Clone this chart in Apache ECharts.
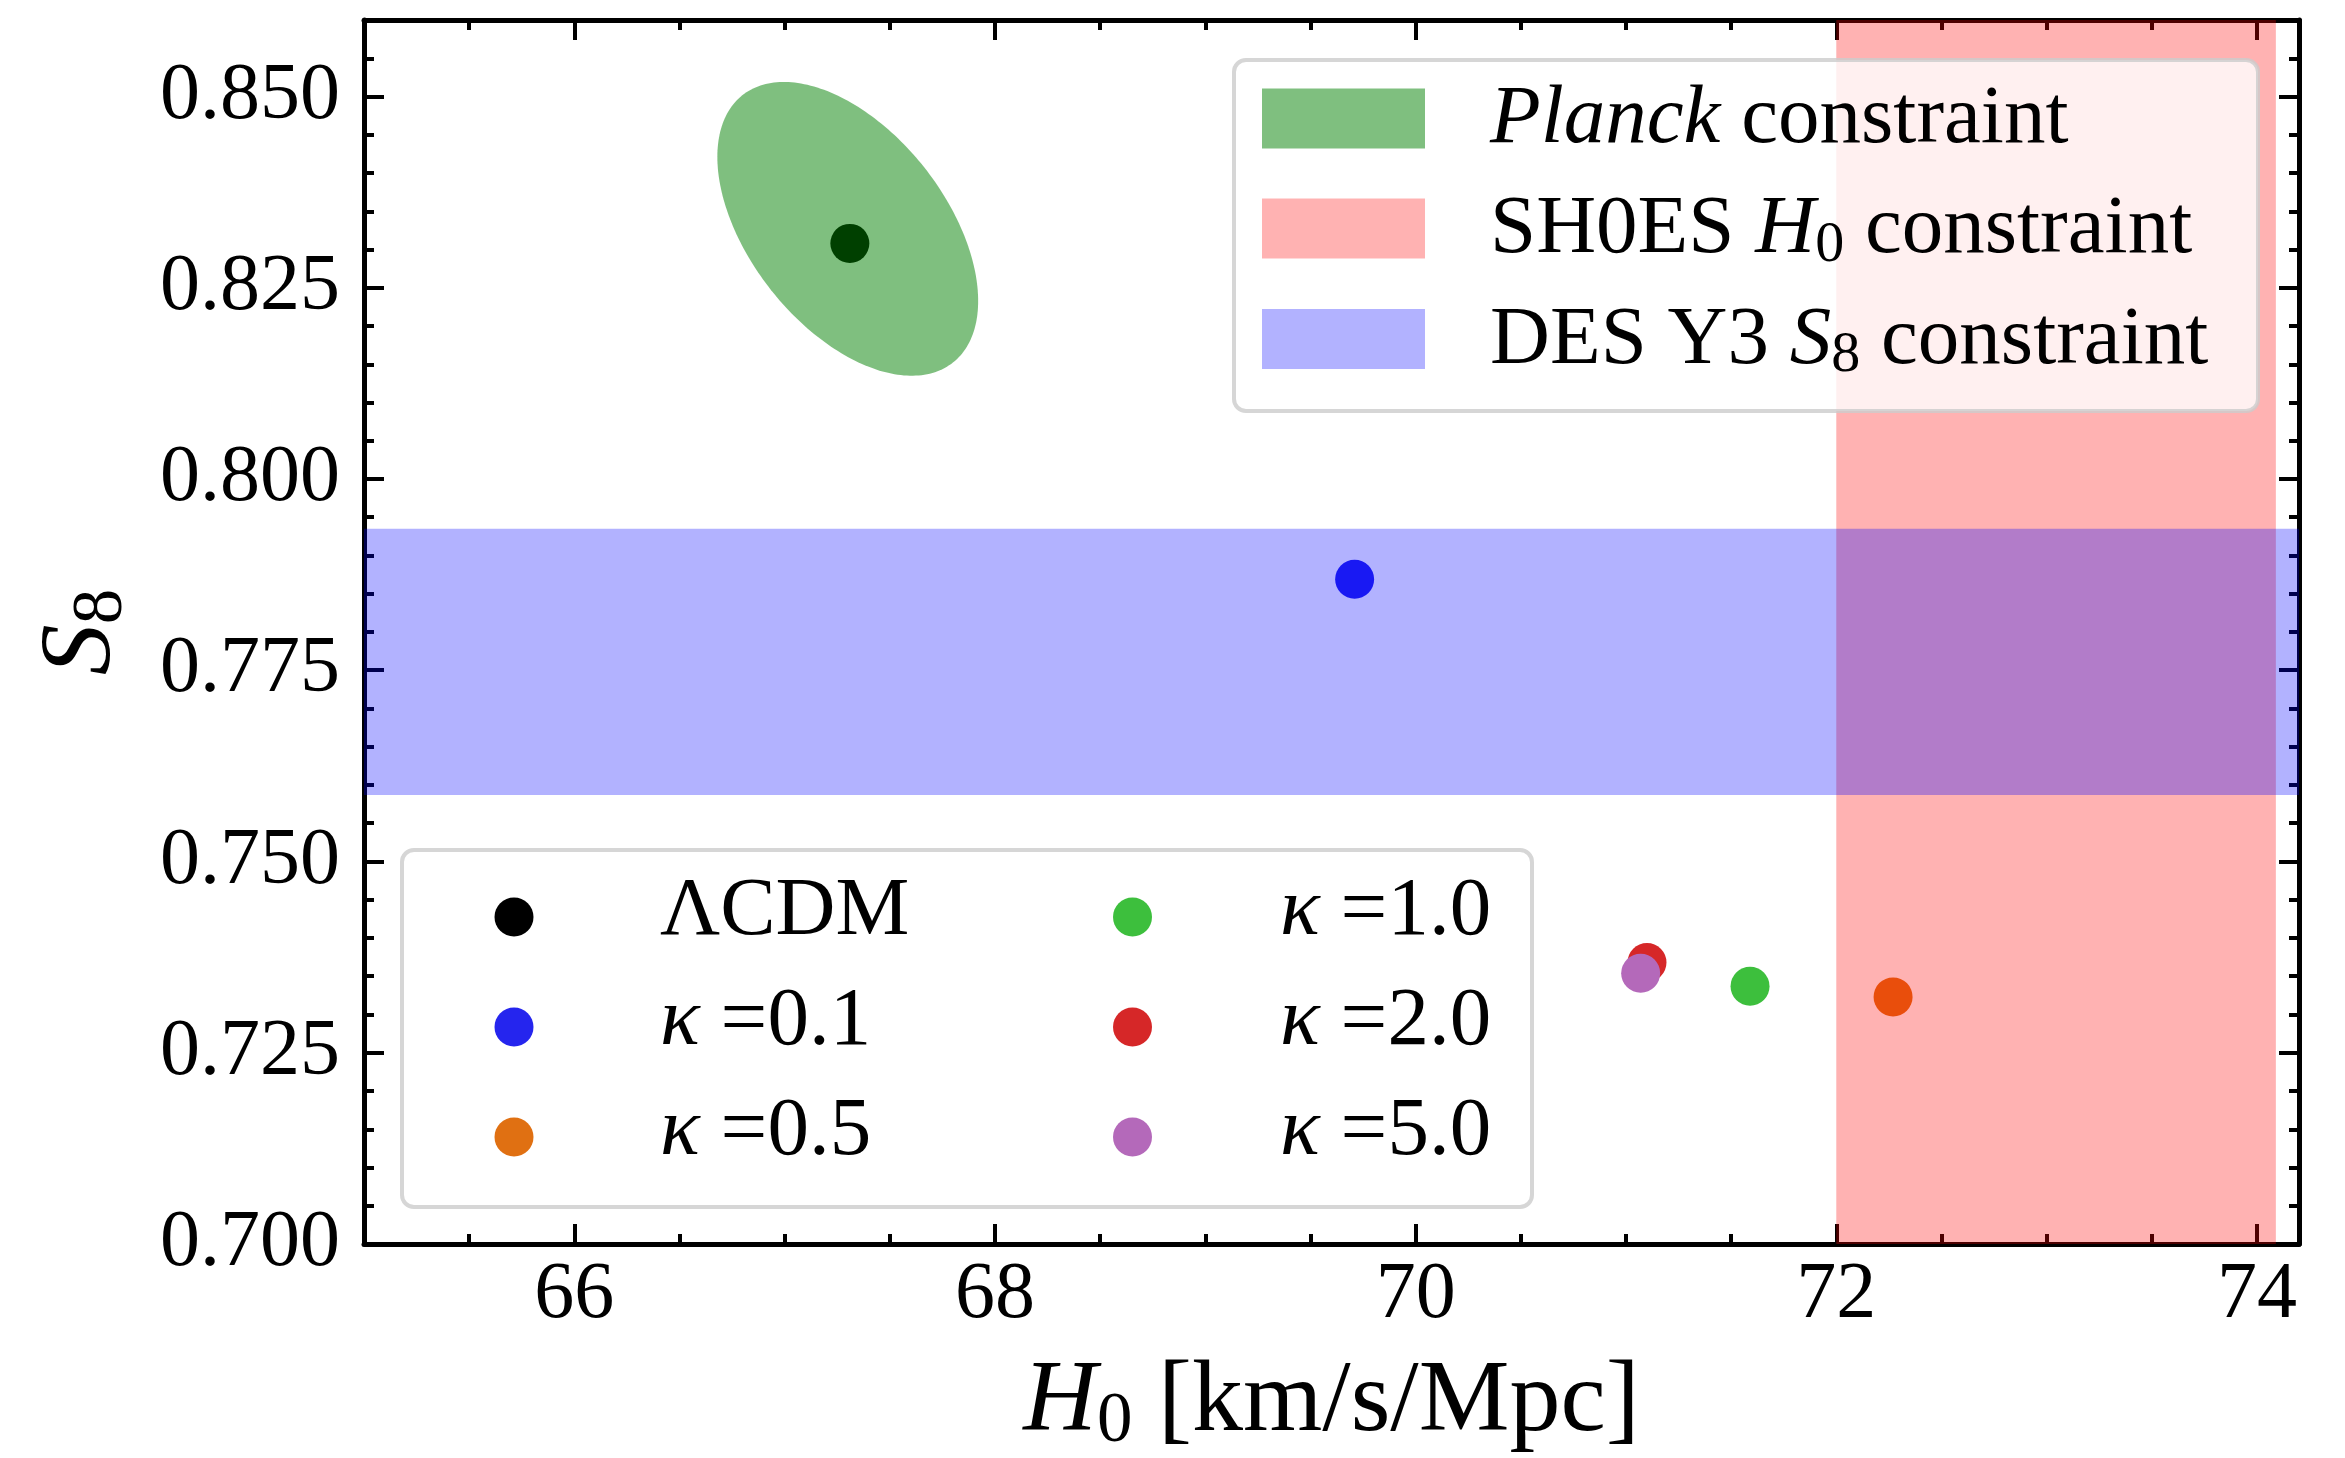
<!DOCTYPE html>
<html>
<head>
<meta charset="utf-8">
<script src="https://cdn.jsdelivr.net/npm/echarts@6/dist/echarts.min.js"></script>
<style>
html,body{margin:0;padding:0;background:#ffffff;}
#chart{width:2345px;height:1458px;}
</style>
</head>
<body>
<div id="chart"></div>
<script>
// ---------------- data ----------------
const xAxisRange = [65, 74.2];
const yAxisRange = [0.700, 0.860];
const xTickStep = 2;
const yTickStep = 0.025;

const modelNames  = ['ΛCDM', 'κ =0.1', 'κ =0.5', 'κ =1.0', 'κ =2.0', 'κ =5.0'];
const modelH0     = [67.31, 69.71, 72.27, 71.59, 71.10, 71.07];
const modelS8     = [0.8308, 0.7869, 0.7323, 0.7337, 0.7368, 0.7354];
const modelColors = ['#000000', '#2525ee', '#e07012', '#3dbf3d', '#d62728', '#b469ba'];

const constraintNames = ['Planck constraint', 'SH0ES H0 constraint', 'DES Y3 S8 constraint'];
const shoesH0Band = [72.00, 74.09];
const desS8Band   = [0.7587, 0.7935];
const planckCenter    = [67.30, 0.8327];
const planckHalfWidth = [0.62, 0.0192];   // H0, S8 half extents
const planckCorr      = -0.49;

// ---------------- styling ----------------
const FONT = "'Liberation Serif', 'DejaVu Serif', serif";
const TICK_FONT = 80;
const TITLE_FONT = 102;
const LEG_FONT = 83;
const C_PLANCK = 'rgba(0,128,0,0.5)';
const C_SHOES  = 'rgba(255,0,0,0.3)';
const C_DES    = 'rgba(0,0,255,0.3)';

const chart = echarts.init(document.getElementById('chart'), null, {renderer: 'canvas'});

function isMultiple(v, step) {
  const r = v / step;
  return Math.abs(r - Math.round(r)) < 1e-6;
}

function axisCommon(isX, showLabels) {
  const range = isX ? xAxisRange : yAxisRange;
  const o = {
    type: 'value',
    min: range[0],
    max: range[1],
    scale: true,
    splitLine: {show: false},
    axisLine: {show: true, onZero: false, lineStyle: {color: '#000', width: 5}},
    axisTick: {show: true, inside: true, length: 20, lineStyle: {color: '#000', width: 4}},
    minorTick: {show: true, splitNumber: isX ? 4 : 5, length: 10, lineStyle: {color: '#000', width: 4}},
    axisLabel: {
      show: showLabels,
      color: '#000',
      fontFamily: FONT,
      fontSize: TICK_FONT,
      lineHeight: TICK_FONT,
      margin: isX ? 12 : 24,
      formatter: isX
        ? (v) => (isMultiple(v, xTickStep) ? String(Math.round(v)) : '')
        : (v) => (isMultiple(v, yTickStep) ? v.toFixed(3) : '')
    }
  };
  if (isX) { o.splitNumber = 5; } else { o.interval = yTickStep; }
  return o;
}

const subRich = (size, lh) => ({
  i: {fontFamily: FONT, fontStyle: 'italic', fontSize: size, lineHeight: lh, color: '#000'},
  s: {fontFamily: FONT, fontSize: Math.round(size * 0.7), lineHeight: Math.round(lh * 0.5), verticalAlign: 'bottom', color: '#000'}
});

const xBottom = Object.assign(axisCommon(true, true), {
  position: 'bottom',
  name: '{i|H}{s|0} [km/s/Mpc]',
  nameLocation: 'middle',
  nameGap: 104,
  nameTextStyle: {fontFamily: FONT, fontSize: TITLE_FONT, lineHeight: 110, color: '#000', rich: subRich(TITLE_FONT, 110)}
});
const xTop = Object.assign(axisCommon(true, false), {position: 'top'});
const yLeft = Object.assign(axisCommon(false, true), {
  position: 'left',
  name: '{i|S}{s|8}',
  nameLocation: 'middle',
  nameGap: 226,
  nameTextStyle: {fontFamily: FONT, fontSize: TITLE_FONT, lineHeight: 110, color: '#000', rich: subRich(TITLE_FONT, 110)}
});
const yRight = Object.assign(axisCommon(false, false), {position: 'right'});

// scatter points (below the shaded constraints)
const scatterSeries = modelNames.map((name, i) => ({
  type: 'scatter',
  name: name,
  xAxisIndex: 0, yAxisIndex: 0,
  z: 2,
  symbol: 'circle',
  symbolSize: 39,
  silent: true,
  itemStyle: {color: modelColors[i], opacity: 1},
  emphasis: {disabled: true},
  data: [[modelH0[i], modelS8[i]]]
}));

const shoesSeries = {
  type: 'custom', name: constraintNames[1], z: 3, silent: true,
  xAxisIndex: 0, yAxisIndex: 0,
  data: [[shoesH0Band[0], shoesH0Band[1]]],
  renderItem: (params, api) => {
    const cs = params.coordSys;
    const x0 = api.coord([api.value(0), yAxisRange[0]])[0];
    const x1 = api.coord([api.value(1), yAxisRange[0]])[0];
    return {type: 'rect', shape: {x: x0, y: cs.y, width: x1 - x0, height: cs.height}, style: {fill: C_SHOES}};
  }
};

const desSeries = {
  type: 'custom', name: constraintNames[2], z: 4, silent: true,
  xAxisIndex: 0, yAxisIndex: 0,
  data: [[desS8Band[0], desS8Band[1]]],
  renderItem: (params, api) => {
    const cs = params.coordSys;
    const yLo = api.coord([xAxisRange[0], api.value(0)])[1];
    const yHi = api.coord([xAxisRange[0], api.value(1)])[1];
    return {type: 'rect', shape: {x: cs.x, y: yHi, width: cs.width, height: yLo - yHi}, style: {fill: C_DES}};
  }
};

const planckSeries = {
  type: 'custom', name: constraintNames[0], z: 5, silent: true,
  xAxisIndex: 0, yAxisIndex: 0,
  data: [[planckCenter[0], planckCenter[1]]],
  renderItem: (params, api) => {
    const cx = api.value(0), cy = api.value(1);
    const s = Math.sqrt(1 - planckCorr * planckCorr);
    const pts = [];
    const n = 240;
    for (let k = 0; k < n; k++) {
      const t = 2 * Math.PI * k / n;
      const h = cx + planckHalfWidth[0] * Math.cos(t);
      const v = cy + planckHalfWidth[1] * (planckCorr * Math.cos(t) + s * Math.sin(t));
      pts.push(api.coord([h, v]));
    }
    return {type: 'polygon', shape: {points: pts}, style: {fill: C_PLANCK}};
  }
};

// ---------------- legends (graphic) ----------------
const legRich = {
  i: {fontFamily: FONT, fontStyle: 'italic', fontSize: LEG_FONT, lineHeight: 88, fill: '#000'},
  s: {fontFamily: FONT, fontSize: 58, lineHeight: 44, verticalAlign: 'bottom', fill: '#000'}
};
const legendTextStyle = (text, x, y) => ({
  type: 'text', z: 101, silent: true,
  style: {text: text, x: x, y: y, fontFamily: FONT, fontSize: LEG_FONT, lineHeight: 88, fill: '#000',
          align: 'left', verticalAlign: 'middle', rich: legRich}
});

const constraintLabels = ['{i|Planck} constraint', 'SH0ES {i|H}{s|0} constraint', 'DES Y3 {i|S}{s|8} constraint'];
const constraintColors = [C_PLANCK, C_SHOES, C_DES];
const modelLabels = ['ΛCDM', '{i|κ} =0.1', '{i|κ} =0.5', '{i|κ} =1.0', '{i|κ} =2.0', '{i|κ} =5.0'];

const graphics = [];
// upper-right legend
graphics.push({type: 'rect', z: 100, silent: true,
  shape: {x: 1234, y: 60, width: 1024, height: 351, r: 12},
  style: {fill: 'rgba(255,255,255,0.8)', stroke: 'rgba(204,204,204,0.8)', lineWidth: 4}});
const rowY1 = [118.5, 228.5, 339];
constraintLabels.forEach((lab, i) => {
  graphics.push({type: 'rect', z: 101, silent: true,
    shape: {x: 1262, y: rowY1[i] - 30, width: 163, height: 60}, style: {fill: constraintColors[i]}});
  graphics.push(legendTextStyle(lab, 1490, rowY1[i] + 2));
});
// lower-left legend
graphics.push({type: 'rect', z: 100, silent: true,
  shape: {x: 402, y: 850, width: 1130, height: 357, r: 12},
  style: {fill: 'rgba(255,255,255,0.8)', stroke: 'rgba(204,204,204,0.8)', lineWidth: 4}});
const rowY2 = [917, 1027, 1137];
const colMarkX = [514, 1132.5];
const colTextX = [660, 1280];
modelLabels.forEach((lab, i) => {
  const col = Math.floor(i / 3), row = i % 3;
  graphics.push({type: 'circle', z: 101, silent: true,
    shape: {cx: colMarkX[col], cy: rowY2[row], r: 19.5}, style: {fill: modelColors[i]}});
  graphics.push(legendTextStyle(lab, colTextX[col], rowY2[row] - 5));
});

chart.setOption({
  animation: false,
  backgroundColor: '#ffffff',
  grid: {left: 364, top: 20, right: 46, bottom: 214, containLabel: false, outerBoundsMode: 'none'},
  xAxis: [xBottom, xTop],
  yAxis: [yLeft, yRight],
  series: scatterSeries.concat([shoesSeries, desSeries, planckSeries]),
  graphic: graphics
});
</script>
</body>
</html>
